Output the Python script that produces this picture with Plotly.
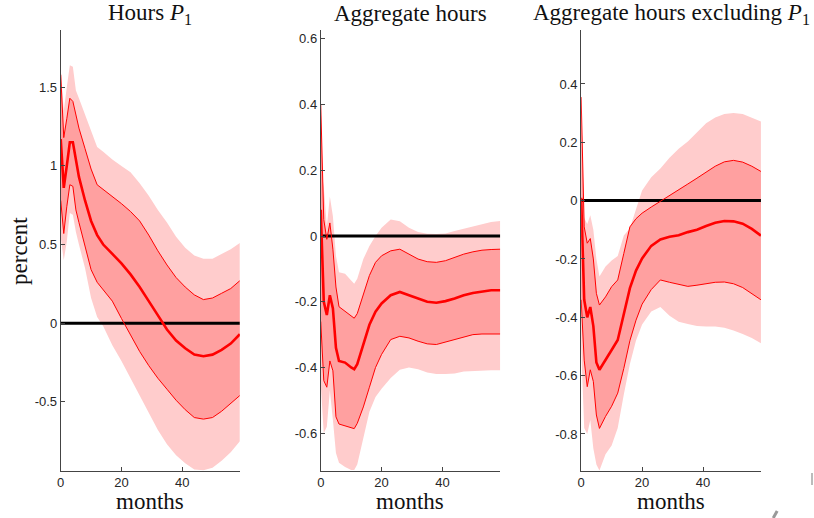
import plotly.graph_objects as go

# ---------------- data ----------------
months_p1 = [0, 1, 2, 3, 4, 5, 6, 8, 10, 12, 14, 17, 20, 23, 26, 29, 32, 35, 38, 41, 44, 47, 50, 53, 56, 59]
p1_median = [1.17, 0.86, 1.00, 1.15, 1.15, 1.04, 0.93, 0.78, 0.65, 0.56, 0.50, 0.44, 0.38, 0.31, 0.23, 0.14,
             0.05, -0.04, -0.11, -0.16, -0.20, -0.21, -0.20, -0.17, -0.13, -0.07]
p1_hi68 = [1.58, 1.18, 1.30, 1.43, 1.41, 1.32, 1.24, 1.11, 0.98, 0.88, 0.85, 0.81, 0.76, 0.71, 0.65, 0.56,
           0.46, 0.37, 0.29, 0.23, 0.18, 0.15, 0.16, 0.19, 0.22, 0.27]
p1_lo68 = [0.78, 0.57, 0.74, 0.88, 0.87, 0.72, 0.64, 0.48, 0.34, 0.26, 0.21, 0.14, 0.03, -0.08, -0.18, -0.27,
           -0.35, -0.42, -0.49, -0.55, -0.60, -0.61, -0.60, -0.56, -0.51, -0.46]
p1_hi90 = [1.62, 1.35, 1.50, 1.64, 1.63, 1.48, 1.43, 1.33, 1.23, 1.12, 1.09, 1.04, 1.00, 0.96, 0.89, 0.81,
           0.72, 0.64, 0.55, 0.48, 0.43, 0.41, 0.41, 0.44, 0.47, 0.51]
p1_lo90 = [0.55, 0.40, 0.52, 0.70, 0.69, 0.58, 0.50, 0.35, 0.16, 0.04, -0.02, -0.14, -0.24, -0.35, -0.46, -0.57,
           -0.68, -0.77, -0.84, -0.89, -0.93, -0.935, -0.92, -0.875, -0.82, -0.75]

months_p2 = [0, 1, 2, 3, 4, 5, 6, 8, 10, 11, 12, 14, 16, 18, 20, 23, 26, 29, 32, 35, 38, 41, 44, 47, 50, 53, 56, 59]
p2_median = [0.08, -0.20, -0.24, -0.18, -0.22, -0.34, -0.38, -0.385, -0.40, -0.405, -0.39, -0.33, -0.27, -0.23,
             -0.205, -0.18, -0.17, -0.18, -0.19, -0.20, -0.203, -0.198, -0.19, -0.18, -0.173, -0.168, -0.165, -0.165]
p2_hi68 = [0.40, 0.05, -0.01, 0.04, -0.04, -0.155, -0.215, -0.23, -0.245, -0.25, -0.236, -0.18, -0.12, -0.08,
           -0.06, -0.045, -0.04, -0.055, -0.07, -0.078, -0.08, -0.075, -0.065, -0.055, -0.048, -0.043, -0.041, -0.04]
p2_lo68 = [-0.26, -0.44, -0.46, -0.38, -0.41, -0.55, -0.572, -0.578, -0.583, -0.586, -0.57, -0.52, -0.46, -0.40,
           -0.36, -0.315, -0.305, -0.31, -0.32, -0.328, -0.33, -0.322, -0.315, -0.308, -0.30, -0.298, -0.298, -0.298]
p2_hi90 = [0.21, 0.15, 0.03, 0.12, 0.06, -0.06, -0.11, -0.115, -0.135, -0.145, -0.13, -0.07, -0.03, 0.00,
           0.025, 0.05, 0.045, 0.025, 0.012, 0.007, 0.006, 0.008, 0.015, 0.022, 0.03, 0.038, 0.043, 0.046]
p2_lo90 = [-0.45, -0.60, -0.58, -0.47, -0.56, -0.66, -0.69, -0.703, -0.712, -0.712, -0.695, -0.61, -0.535, -0.49,
           -0.465, -0.432, -0.407, -0.40, -0.405, -0.415, -0.42, -0.42, -0.418, -0.412, -0.41, -0.408, -0.408, -0.408]

months_p3 = [0, 1, 2, 3, 4, 5, 6, 8, 10, 12, 14, 16, 18, 20, 23, 26, 29, 32, 35, 38, 41, 44, 47, 50, 53, 56, 59]
p3_median = [0.01, -0.34, -0.40, -0.365, -0.43, -0.555, -0.58, -0.548, -0.512, -0.478, -0.39, -0.30, -0.24,
             -0.198, -0.155, -0.133, -0.124, -0.119, -0.108, -0.10, -0.087, -0.076, -0.07, -0.071, -0.079, -0.097, -0.12]
p3_hi68 = [0.355, -0.09, -0.146, -0.13, -0.20, -0.318, -0.358, -0.33, -0.295, -0.272, -0.181, -0.09, -0.062,
           -0.043, -0.022, -0.003, 0.018, 0.038, 0.057, 0.077, 0.098, 0.118, 0.133, 0.138, 0.132, 0.118, 0.10]
p3_lo68 = [-0.34, -0.547, -0.638, -0.58, -0.62, -0.735, -0.781, -0.74, -0.705, -0.66, -0.575, -0.48, -0.41,
           -0.355, -0.305, -0.272, -0.28, -0.288, -0.294, -0.29, -0.284, -0.28, -0.279, -0.285, -0.298, -0.318, -0.34]
p3_hi90 = [0.02, -0.06, -0.08, -0.05, -0.10, -0.20, -0.26, -0.226, -0.205, -0.19, -0.12, -0.095, -0.03,
           0.035, 0.08, 0.11, 0.147, 0.178, 0.203, 0.235, 0.265, 0.285, 0.297, 0.30, 0.297, 0.284, 0.271]
p3_lo90 = [-0.50, -0.78, -0.80, -0.752, -0.85, -0.905, -0.925, -0.87, -0.84, -0.78, -0.665, -0.56, -0.48,
           -0.425, -0.38, -0.365, -0.395, -0.415, -0.423, -0.43, -0.432, -0.432, -0.436, -0.445, -0.457, -0.471, -0.489]

zero_months = [0, 59]
zero_values = [0, 0]

titles = ["Hours <i>P</i><sub>1</sub>", "Aggregate hours", "Aggregate hours excluding <i>P</i><sub>1</sub>"]
x_label = "months"
y_label = "percent"
x_ticks = [0, 20, 40]
y_ticks = [
    [-0.5, 0, 0.5, 1, 1.5],
    [-0.6, -0.4, -0.2, 0, 0.2, 0.4, 0.6],
    [-0.8, -0.6, -0.4, -0.2, 0, 0.2, 0.4],
]
y_tick_text = [
    ["-0.5", "0", "0.5", "1", "1.5"],
    ["-0.6", "-0.4", "-0.2", "0", "0.2", "0.4", "0.6"],
    ["-0.8", "-0.6", "-0.4", "-0.2", "0", "0.2", "0.4"],
]
y_ranges = [[-0.938, 1.864], [-0.714, 0.627], [-0.926, 0.585]]
x_range = [0, 59]

panels = [
    (months_p1, p1_median, p1_hi68, p1_lo68, p1_hi90, p1_lo90),
    (months_p2, p2_median, p2_hi68, p2_lo68, p2_hi90, p2_lo90),
    (months_p3, p3_median, p3_hi68, p3_lo68, p3_hi90, p3_lo90),
]

# ---------------- styling ----------------
W, H = 814, 518
LIGHT = "rgb(255,204,204)"
DARK = "rgb(255,160,160)"
RED = "rgb(255,0,0)"
AXIS = "#444444"
SERIF = "Liberation Serif, DejaVu Serif, serif"
SANS = "Liberation Sans, Arial, sans-serif"
TXT = "#111111"

x_doms = [[57 / W, 237 / W], [318.3 / W, 498.7 / W], [580 / W, 760.7 / W]]
y_dom = [(H - 470.7) / H, (H - 30) / H]

fig = go.Figure()

for i, (m, med, hi68, lo68, hi90, lo90) in enumerate(panels):
    xa = "x" if i == 0 else f"x{i+1}"
    ya = "y" if i == 0 else f"y{i+1}"
    common = dict(xaxis=xa, yaxis=ya, showlegend=False, hoverinfo="skip")
    # outer (light) band
    fig.add_trace(go.Scatter(x=m, y=lo90, mode="lines", line=dict(width=0, color=LIGHT), **common))
    fig.add_trace(go.Scatter(x=m, y=hi90, mode="lines", line=dict(width=0, color=LIGHT),
                             fill="tonexty", fillcolor=LIGHT, **common))
    # inner (dark) band
    fig.add_trace(go.Scatter(x=m, y=lo68, mode="lines", line=dict(width=0, color=DARK), **common))
    fig.add_trace(go.Scatter(x=m, y=hi68, mode="lines", line=dict(width=0, color=DARK),
                             fill="tonexty", fillcolor=DARK, **common))
    # zero line
    fig.add_trace(go.Scatter(x=zero_months, y=zero_values, mode="lines",
                             line=dict(width=3, color="black"), **common))
    # band edges
    fig.add_trace(go.Scatter(x=m, y=hi68, mode="lines", line=dict(width=1, color=RED), **common))
    fig.add_trace(go.Scatter(x=m, y=lo68, mode="lines", line=dict(width=1, color=RED), **common))
    # median
    fig.add_trace(go.Scatter(x=m, y=med, mode="lines", line=dict(width=2.6, color=RED), **common))

    axis_common = dict(showline=True, linecolor=AXIS, linewidth=1, showgrid=False, zeroline=False,
                       ticks="inside", ticklen=4, tickcolor=AXIS, tickwidth=1,
                       tickfont=dict(family=SANS, size=13, color="#262626"))
    fig.update_layout(**{
        ("xaxis" if i == 0 else f"xaxis{i+1}"): dict(
            domain=x_doms[i], range=x_range, tickvals=x_ticks, ticktext=[str(t) for t in x_ticks],
            anchor=ya, **axis_common),
        ("yaxis" if i == 0 else f"yaxis{i+1}"): dict(
            domain=y_dom, range=y_ranges[i], tickvals=y_ticks[i], ticktext=y_tick_text[i],
            anchor=xa, **axis_common),
    })

    cx = (x_doms[i][0] + x_doms[i][1]) / 2
    fig.add_annotation(text=titles[i], x=cx, y=1 - 14 / H, xref="paper", yref="paper",
                       showarrow=False, xanchor="center", yanchor="middle",
                       font=dict(family=SERIF, size=23, color=TXT))
    fig.add_annotation(text=x_label, x=cx, y=1 - 501 / H, xref="paper", yref="paper",
                       showarrow=False, xanchor="center", yanchor="middle",
                       font=dict(family=SERIF, size=23, color=TXT))

fig.add_annotation(text=y_label, x=15 / W, y=1 - 251 / H, xref="paper", yref="paper",
                   showarrow=False, xanchor="center", yanchor="middle", textangle=-90,
                   font=dict(family=SERIF, size=23, color=TXT))

# faint cropped marks at the lower right edge of the original figure
fig.add_shape(type="line", xref="paper", yref="paper", x0=812 / W, x1=812 / W,
              y0=1 - 485 / H, y1=1 - 473 / H, line=dict(color="#bbbbbb", width=2))
fig.add_shape(type="line", xref="paper", yref="paper", x0=773 / W, x1=777 / W,
              y0=0, y1=1 - 511 / H, line=dict(color="#999999", width=3))

fig.update_layout(width=W, height=H, margin=dict(l=0, r=0, t=0, b=0),
                  paper_bgcolor="white", plot_bgcolor="white")

fig.write_html("out.html")
